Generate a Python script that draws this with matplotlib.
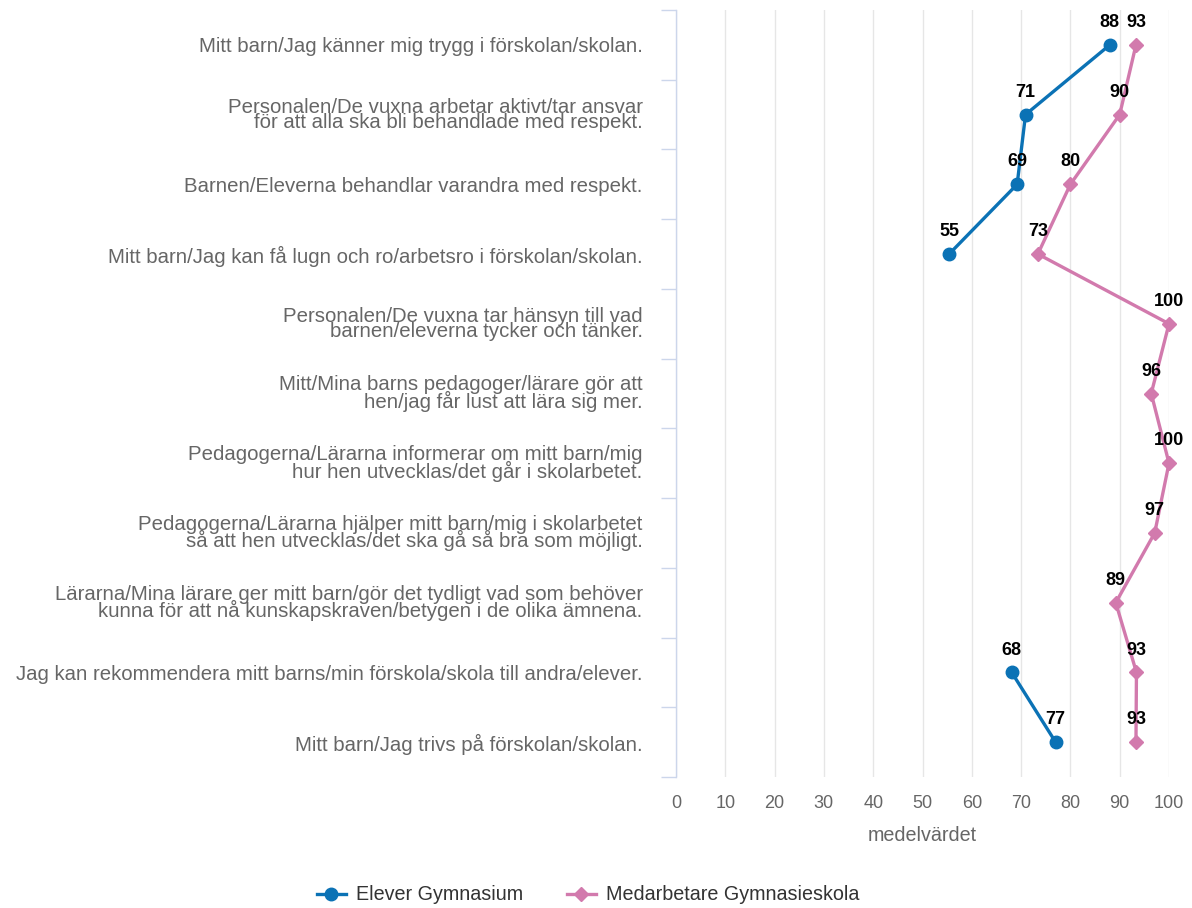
import numpy as np
import matplotlib
matplotlib.use("Agg")
import matplotlib.pyplot as plt
from matplotlib.lines import Line2D

plt.rcParams['font.family'] = ['Liberation Sans', 'DejaVu Sans']

categories = [
    "Mitt barn/Jag känner mig trygg i förskolan/skolan.",
    "Personalen/De vuxna arbetar aktivt/tar ansvar\nför att alla ska bli behandlade med respekt.",
    "Barnen/Eleverna behandlar varandra med respekt.",
    "Mitt barn/Jag kan få lugn och ro/arbetsro i förskolan/skolan.",
    "Personalen/De vuxna tar hänsyn till vad\nbarnen/eleverna tycker och tänker.",
    "Mitt/Mina barns pedagoger/lärare gör att\nhen/jag får lust att lära sig mer.",
    "Pedagogerna/Lärarna informerar om mitt barn/mig\nhur hen utvecklas/det går i skolarbetet.",
    "Pedagogerna/Lärarna hjälper mitt barn/mig i skolarbetet\nså att hen utvecklas/det ska gå så bra som möjligt.",
    "Lärarna/Mina lärare ger mitt barn/gör det tydligt vad som behöver\nkunna för att nå kunskapskraven/betygen i de olika ämnena.",
    "Jag kan rekommendera mitt barns/min förskola/skola till andra/elever.",
    "Mitt barn/Jag trivs på förskolan/skolan.",
]
elever = [88.0, 70.9, 69.2, 55.4, np.nan, np.nan, np.nan, np.nan, np.nan, 68.1, 77.0]
medarbetare = [93.3, 90.0, 80.0, 73.4, 100.0, 96.4, 100.0, 97.1, 89.2, 93.4, 93.3]
series_names = ["Elever Gymnasium", "Medarbetare Gymnasieskola"]
colors = ["#0b72b5", "#d27aad"]
xticks = list(range(0, 101, 10))

fig = plt.figure(figsize=(11.92, 9.08), dpi=100)
W, H = 1192, 908
ax = fig.add_axes([676 / W, 1 - 777 / H, 493 / W, 767 / H])

y = np.arange(len(categories))
ax.plot(elever, y, color=colors[0], lw=2.4, marker='o', ms=9, clip_on=False, zorder=3)
ax.plot(medarbetare, y, color=colors[1], lw=2.4, marker='D', ms=7.5, clip_on=False, zorder=3)

for vals in (elever, medarbetare):
    for yi, v in zip(y, vals):
        if not np.isnan(v):
            ax.annotate(f"{round(v):d}", (v, yi), xytext=(0, 10), textcoords='offset points',
                        ha='center', va='bottom', fontsize=13, fontweight='bold', color='black',
                        zorder=4, annotation_clip=False)

ax.set_xlim(0, 100)
ax.set_ylim(len(categories) - 0.5, -0.5)
ax.set_xticks(xticks)
ax.set_xticklabels([str(t) for t in xticks], color='#666666', fontsize=13)
ax.tick_params(axis='x', length=0, pad=13)
ax.grid(axis='x', color='#e6e6e6', lw=1)
ax.set_axisbelow(True)

ax.set_yticks(y)
ax.set_yticklabels(categories, color='#666666', fontsize=14.7, linespacing=0.78)
ax.tick_params(axis='y', which='major', length=0, pad=24)
ax.set_yticks(np.arange(-0.5, len(categories)), minor=True)
ax.tick_params(axis='y', which='minor', length=11, color='#ccd6eb', width=1)

for s in ['top', 'right', 'bottom']:
    ax.spines[s].set_visible(False)
ax.spines['left'].set_color('#ccd6eb')
ax.spines['left'].set_linewidth(1)

ax.set_xlabel("medelvärdet", color='#666666', fontsize=14.2, labelpad=10)

handles = [Line2D([], [], color=colors[0], lw=2.4, marker='o', ms=9),
           Line2D([], [], color=colors[1], lw=2.4, marker='D', ms=7.5)]
fig.legend(handles, series_names, loc='center', bbox_to_anchor=(588 / W, 1 - 895 / H),
           ncol=2, frameon=False, fontsize=14.2, handlelength=1.5, handletextpad=0.5,
           columnspacing=2.2, labelcolor='#333333')

fig.savefig("out.png", dpi=100)
